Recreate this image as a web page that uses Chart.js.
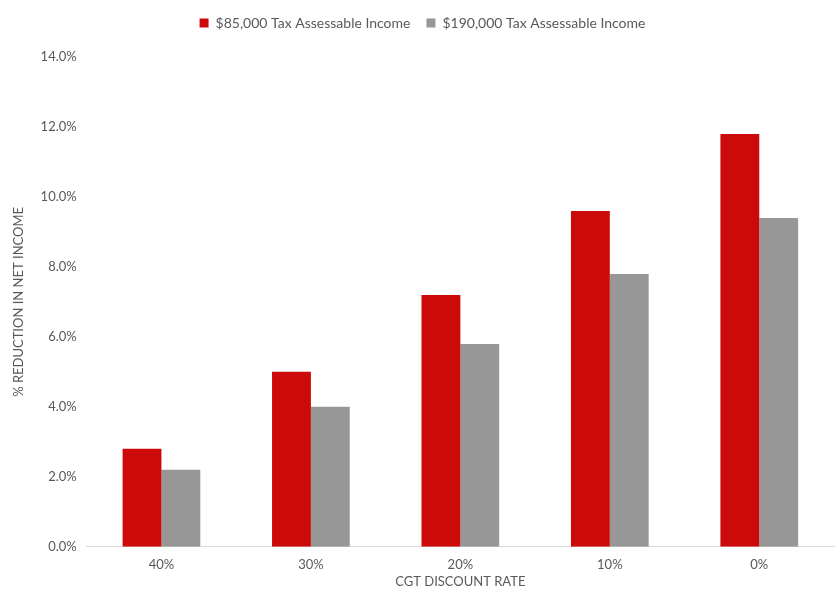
<!DOCTYPE html>
<html>
<head>
<meta charset="utf-8">
<script src="https://cdn.jsdelivr.net/npm/chart.js@4"></script>
<style>
  html, body { margin: 0; padding: 0; background: #fff; }
  #wrap { width: 835px; height: 595px; }
</style>
</head>
<body>
<div id="wrap"><canvas id="chart"></canvas></div>
<script>
var categorias = ['40%', '30%', '20%', '10%', '0%'];
var ingreso85 = [2.8, 5.0, 7.2, 9.6, 11.8];
var ingreso190 = [2.2, 4.0, 5.8, 7.8, 9.4];
var nombresSeries = ['$85,000 Tax Assessable Income', '$190,000 Tax Assessable Income'];

var colorTexto = '#595959';
var fuente = 'Lato';

var datos = {
    labels: categorias,
    datasets: [{
        label: nombresSeries[0],
        backgroundColor: '#CC0A0A',
        data: ingreso85
    }, {
        label: nombresSeries[1],
        backgroundColor: '#979797',
        data: ingreso190
    }]
};

// un poco mas de aire debajo de la leyenda
var margenLeyenda = {
    id: 'margenLeyenda',
    beforeInit: function (chart) {
        var fitOriginal = chart.legend.fit;
        chart.legend.fit = function () {
            fitOriginal.bind(chart.legend)();
            this.height += 17;
        };
    }
};

var canvas = document.getElementById('chart').getContext('2d');
window.bar = new Chart(canvas, {
    type: 'bar',
    data: datos,
    plugins: [margenLeyenda],
    options: {
        responsive: true,
        maintainAspectRatio: false,
        animation: false,
        datasets: {
            bar: {
                categoryPercentage: 0.52,
                barPercentage: 1.0
            }
        },
        layout: {
            padding: { left: 11, right: 1, top: 0, bottom: 0 }
        },
        plugins: {
            tooltip: { enabled: false },
            legend: {
                position: 'top',
                labels: {
                    color: colorTexto,
                    font: { family: fuente, size: 14 },
                    boxWidth: 9,
                    boxHeight: 9,
                    padding: 16
                }
            }
        },
        scales: {
            x: {
                grid: { display: false, drawTicks: false },
                border: { color: '#D9D9D9', width: 1 },
                ticks: {
                    color: colorTexto,
                    font: { family: fuente, size: 13 },
                    padding: 10
                },
                title: {
                    display: true,
                    text: 'CGT DISCOUNT RATE',
                    color: colorTexto,
                    font: { family: fuente, size: 13 },
                    padding: { top: -8, bottom: 5 }
                }
            },
            y: {
                min: 0,
                max: 14,
                grid: { display: false, drawTicks: false },
                border: { display: false },
                ticks: {
                    stepSize: 2,
                    color: colorTexto,
                    font: { family: fuente, size: 13 },
                    padding: 10,
                    callback: function (v) { return v.toFixed(1) + '%'; }
                },
                title: {
                    display: true,
                    text: '% REDUCTION IN NET INCOME',
                    color: colorTexto,
                    font: { family: fuente, size: 13 },
                    padding: { top: 0, bottom: 4 }
                }
            }
        }
    }
});
</script>
</body>
</html>
